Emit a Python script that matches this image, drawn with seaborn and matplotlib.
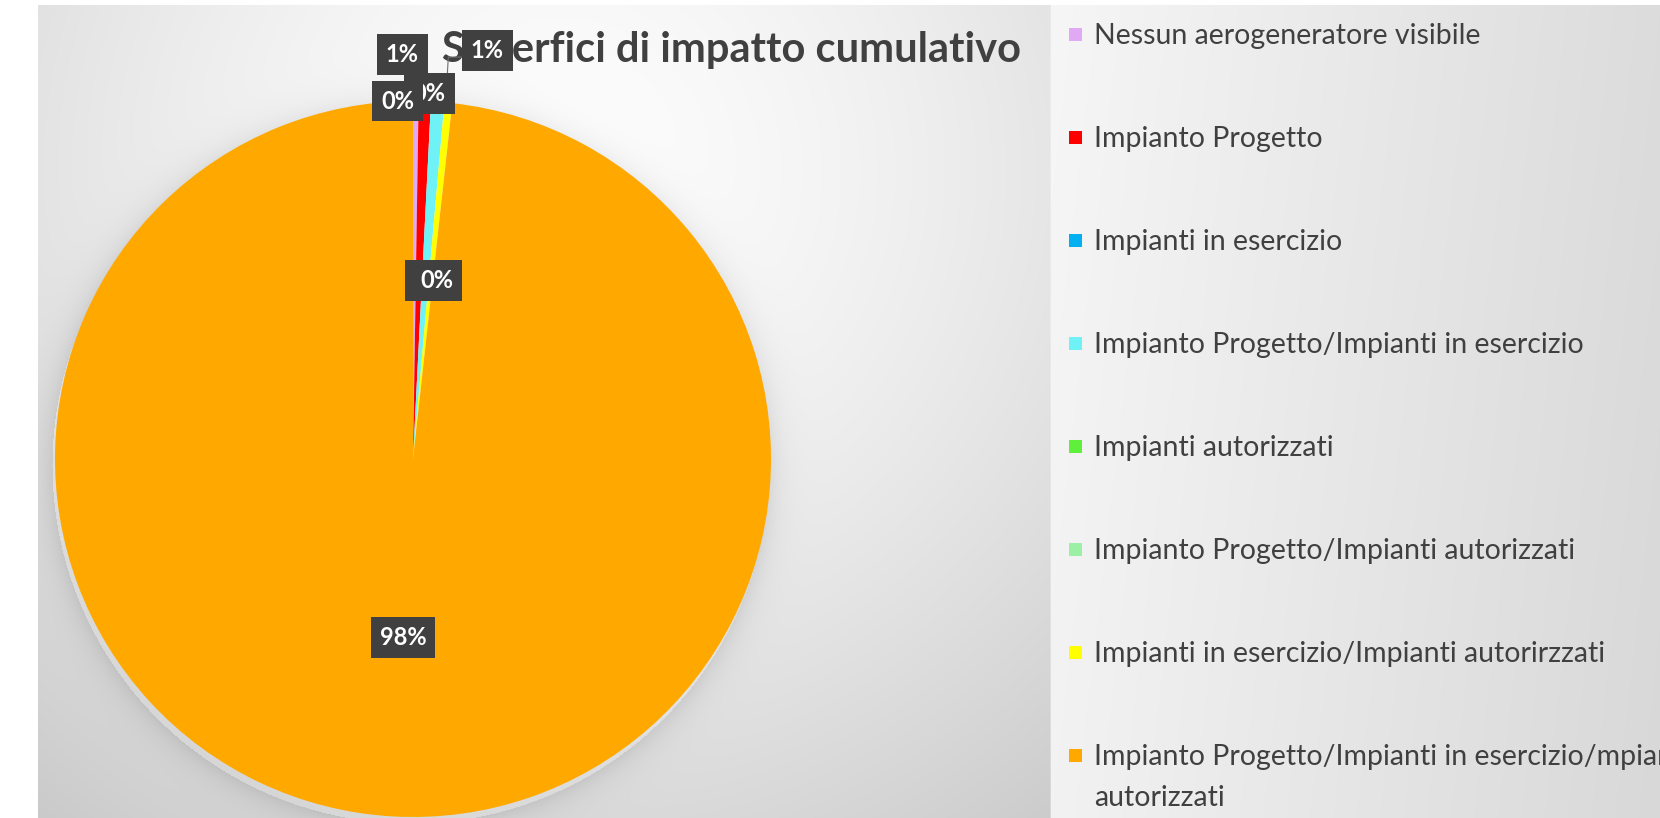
import numpy as np
import matplotlib
matplotlib.use('Agg')
import matplotlib.pyplot as plt
import seaborn as sns
from matplotlib.patches import Rectangle

# dati del grafico
categories = ['Nessun aerogeneratore visibile',
              'Impianto Progetto',
              'Impianti in esercizio',
              'Impianto Progetto/Impianti in esercizio',
              'Impianti autorizzati',
              'Impianto Progetto/Impianti autorizzati',
              'Impianti in esercizio/Impianti autorirzzati',
              'Impianto Progetto/Impianti in esercizio/mpianti\nautorizzati']
values = [0.25, 0.55, 0.0, 0.6, 0.0, 0.0, 0.35, 98.25]
colors = ['#dfa9f3', '#ff0000', '#00b0f0', '#6ef2f6', '#5ef03a', '#9cf0a6', '#ffff00', '#ffa800']
title = 'Superfici di impatto cumulativo'

# posizione etichette: (raggio, dx px, dy px, zorder)
label_pos = [(1.0, -18, 0, 6), (1.13, -24, 0, 7), (0.5, 8, 0, 5), (1.145, 46, 0, 8),
             (0.5, 8, 0, 5), (0.5, 8, 0, 5), (1.027, -20, 0, 4), (0.5, 0, 0, 5)]

sns.set_theme(style='white')
plt.rcParams['font.family'] = ['Lato', 'DejaVu Sans']

W, H = 1660, 818
fig = plt.figure(figsize=(W / 100, H / 100), dpi=100)

# sfondo sfumato
yy, xx = np.mgrid[0:H, 0:W].astype(float)
d = np.hypot(xx - 560, yy - 170)
bg = 253 - 50 * np.clip(d / 820, 0, 1.2) ** 1.5
cx, cy, R = 413, 459, 358
dp = np.hypot(xx - (cx - 3), yy - (cy + 6))
shadow = np.where(dp > R, 22 * np.exp(-(dp - R) / 14), 0)
bg = bg - shadow
right = xx >= 1050
bg[right] = (246 - 26 * (xx - 1050) / 610 - 4 * yy / H)[right]
bg[:, :38] = 255
bg[:5, :] = 255
img = np.clip(bg, 0, 255) / 255
bg_ax = fig.add_axes([0, 0, 1, 1])
bg_ax.imshow(np.dstack([img, img, img]), extent=(0, W, H, 0), aspect='auto')
bg_ax.set_xlim(0, W)
bg_ax.set_ylim(H, 0)
bg_ax.axis('off')

# torta
ax = fig.add_axes([(cx - R) / W, (H - cy - R) / H, 2 * R / W, 2 * R / H])
wedges, _ = ax.pie(values, colors=colors, startangle=90, counterclock=False,
                   radius=1, wedgeprops=dict(linewidth=0))
ax.set_xlim(-1, 1)
ax.set_ylim(-1, 1)
ax.axis('off')

total = sum(values)
lab_xy = []
for w, v, (r, dx, dy, z) in zip(wedges, values, label_pos):
    ang = np.deg2rad((w.theta1 + w.theta2) / 2)
    x = r * np.cos(ang) + dx / R
    y = r * np.sin(ang) - dy / R
    lab_xy.append((x, y))
    ax.text(x, y, f'{round(v / total * 100):.0f}%', ha='center', va='center',
            color='white', fontsize=17, fontweight='bold', zorder=z, clip_on=False,
            bbox=dict(boxstyle='square,pad=0.38', fc='#404040', ec='none'))

# linea guida per l'etichetta spostata
ang = np.deg2rad((wedges[3].theta1 + wedges[3].theta2) / 2)
lx, ly = lab_xy[3]
ax.plot([np.cos(ang) + 8 / R, lx - 39 / R, lx - 24 / R],
        [np.sin(ang), ly - 7 / R, ly - 7 / R], color='#707070', lw=0.8,
        zorder=3, clip_on=False)

ax.text(442 / W, 1 - 50 / H, title, transform=fig.transFigure, ha='left', va='center',
        fontsize=30, fontweight='bold', color='#404040', zorder=2)

# legenda
for i, (lab, col) in enumerate(zip(categories, colors)):
    yc = 34 + i * 103
    bg_ax.add_patch(Rectangle((1069, yc - 6.5), 13, 13, color=col, lw=0))
    bg_ax.text(1094, yc - 11, lab, ha='left', va='top', fontsize=20.5,
               color='#404040', linespacing=1.72)

fig.savefig('out.png', dpi=100)
